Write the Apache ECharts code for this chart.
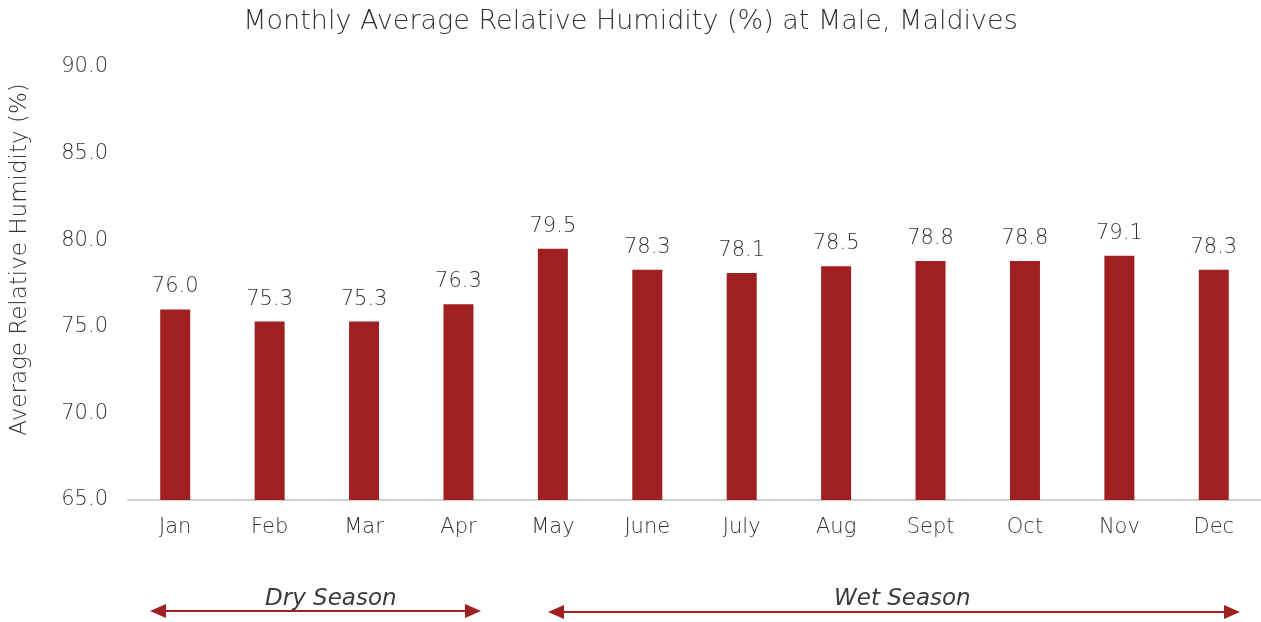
<!DOCTYPE html>
<html>
<head>
<meta charset="utf-8">
<script src="https://cdn.jsdelivr.net/npm/echarts@6/dist/echarts.min.js"></script>
<style>
  html, body { margin: 0; padding: 0; background: #fff; }
  #main { width: 1261px; height: 622px; }
</style>
</head>
<body>
<div id="main"></div>
<script>
const months = ['Jan', 'Feb', 'Mar', 'Apr', 'May', 'June', 'July', 'Aug', 'Sept', 'Oct', 'Nov', 'Dec'];
const humidity = [76.0, 75.3, 75.3, 76.3, 79.5, 78.3, 78.1, 78.5, 78.8, 78.8, 79.1, 78.3];
const yTicks = [65, 70, 75, 80, 85, 90];

const font = '"DejaVu Sans", sans-serif';
const textColor = '#333';
const barColor = '#a01f20';

const chart = echarts.init(document.getElementById('main'));

chart.setOption({
  animation: false,
  title: {
    text: 'Monthly Average Relative Humidity (%) at Male, Maldives',
    left: 'center',
    top: 3,
    textStyle: { fontFamily: font, fontSize: 27, fontWeight: 200, color: textColor }
  },
  grid: { left: 128, right: 0, top: 67, bottom: 122 },
  xAxis: {
    type: 'category',
    data: months,
    axisLine: { lineStyle: { color: '#d0d0d0', width: 2 } },
    axisTick: { show: false },
    axisLabel: { fontFamily: font, fontSize: 21, fontWeight: 200, color: textColor, margin: 17 }
  },
  yAxis: {
    type: 'value',
    min: yTicks[0],
    max: yTicks[yTicks.length - 1],
    interval: 5,
    name: 'Average Relative Humidity (%)',
    nameLocation: 'middle',
    nameGap: 96,
    nameTextStyle: { fontFamily: font, fontSize: 23, fontWeight: 200, color: textColor, padding: [0, 0, 0, 48] },
    splitLine: { show: false },
    axisLine: { show: false },
    axisTick: { show: false },
    axisLabel: {
      fontFamily: font, fontSize: 21, fontWeight: 200, color: textColor, margin: 20,
      formatter: v => v.toFixed(1)
    }
  },
  series: [{
    type: 'bar',
    data: humidity,
    barWidth: 30,
    itemStyle: { color: barColor },
    label: {
      show: true,
      position: 'top',
      distance: 12,
      fontFamily: font, fontSize: 21, fontWeight: 200, color: textColor,
      formatter: p => p.value.toFixed(1)
    }
  }],
  graphic: [
    // season arrows under the axis
    {
      type: 'line', shape: { x1: 160, y1: 611, x2: 470, y2: 611 },
      style: { stroke: barColor, lineWidth: 2 }
    },
    { type: 'polygon', shape: { points: [[150, 611], [166, 604], [166, 618]] }, style: { fill: barColor } },
    { type: 'polygon', shape: { points: [[481, 611], [465, 604], [465, 618]] }, style: { fill: barColor } },
    {
      type: 'text', left: 265, top: 588,
      style: { text: 'Dry Season', font: 'italic 200 23px ' + font, fill: '#3a3a3a' }
    },
    {
      type: 'line', shape: { x1: 558, y1: 612, x2: 1230, y2: 612 },
      style: { stroke: barColor, lineWidth: 2 }
    },
    { type: 'polygon', shape: { points: [[548, 612], [564, 605], [564, 619]] }, style: { fill: barColor } },
    { type: 'polygon', shape: { points: [[1240, 612], [1224, 605], [1224, 619]] }, style: { fill: barColor } },
    {
      type: 'text', left: 834, top: 588,
      style: { text: 'Wet Season', font: 'italic 200 23px ' + font, fill: '#3a3a3a' }
    }
  ]
});
</script>
</body>
</html>
